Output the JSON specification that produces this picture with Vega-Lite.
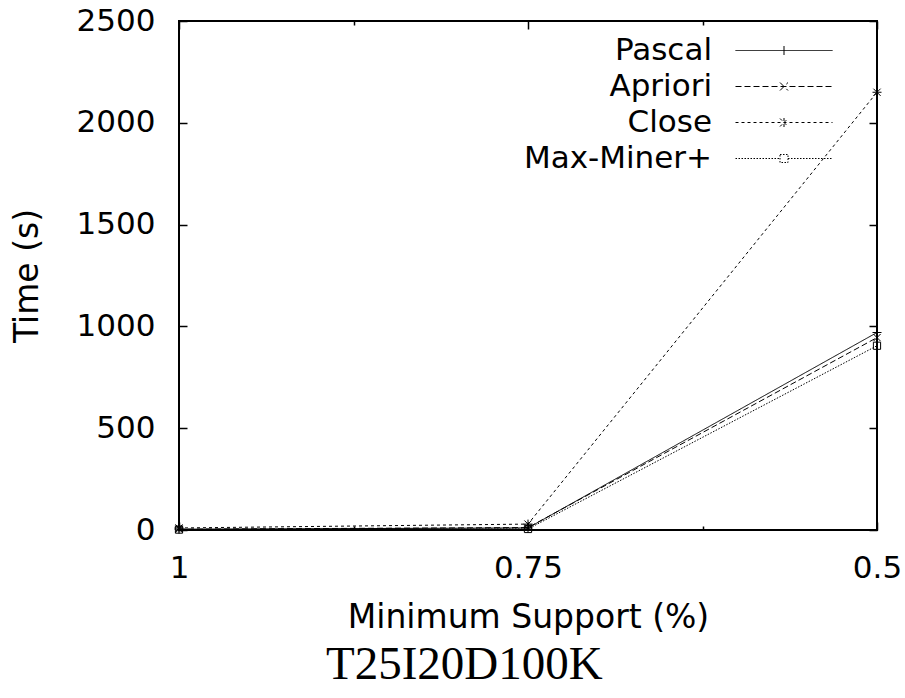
{
  "$schema": "https://vega.github.io/schema/vega-lite/v6.json",
  "width": 698,
  "height": 509,
  "autosize": {"type": "none"},
  "padding": {"left": 179, "top": 21, "right": 28, "bottom": 168},
  "background": "white",
  "config": {
    "view": {"stroke": "#000", "strokeWidth": 2},
    "axis": {
      "domain": false, "grid": false, "tickColor": "#000", "tickWidth": 1.5,
      "labelFont": "DejaVu Sans", "labelFontSize": 31, "labelColor": "#000",
      "titleFont": "DejaVu Sans", "titleFontSize": 33, "titleFontWeight": "normal", "titleColor": "#000"
    }
  },
  "title": {
    "text": "T25I20D100K", "orient": "bottom", "frame": "bounds", "anchor": "middle", "dx": 8,
    "font": "Liberation Serif", "fontSize": 47, "fontWeight": "normal", "color": "#000", "offset": 8
  },
  "data": {
    "values": [
      {"series": "Pascal", "support": 1, "time": 4},
      {"series": "Pascal", "support": 0.75, "time": 10},
      {"series": "Pascal", "support": 0.5, "time": 970},
      {"series": "Apriori", "support": 1, "time": 4},
      {"series": "Apriori", "support": 0.75, "time": 12},
      {"series": "Apriori", "support": 0.5, "time": 945},
      {"series": "Close", "support": 1, "time": 10},
      {"series": "Close", "support": 0.75, "time": 29},
      {"series": "Close", "support": 0.5, "time": 2150},
      {"series": "Max-Miner+", "support": 1, "time": 2},
      {"series": "Max-Miner+", "support": 0.75, "time": 5},
      {"series": "Max-Miner+", "support": 0.5, "time": 905}
    ]
  },
  "layer": [
    {
      "mark": {"type": "line", "color": "#000", "strokeWidth": 1},
      "encoding": {
        "x": {"field": "support", "type": "quantitative",
          "scale": {"domain": [0.5, 1], "reverse": true, "nice": false, "zero": false},
          "axis": {"orient": "bottom", "values": [1, 0.75, 0.5],
            "labelExpr": "datum.value == 1 ? '1' : datum.value == 0.75 ? '0.75' : datum.value == 0.5 ? '0.5' : ''",
            "tickSize": -8, "labelPadding": 31, "labelFlush": false, "labelOverlap": false,
            "title": "Minimum Support (%)", "titlePadding": 18}},
        "y": {"field": "time", "type": "quantitative",
          "scale": {"domain": [0, 2500], "nice": false, "zero": true},
          "axis": {"orient": "left", "values": [0, 500, 1000, 1500, 2000, 2500], "format": "d",
            "tickSize": -8, "labelPadding": 32, "labelFlush": false, "labelOverlap": false,
            "title": "Time (s)", "titlePadding": 32}},
        "strokeDash": {"field": "series", "type": "nominal",
          "scale": {"domain": ["Pascal", "Apriori", "Close", "Max-Miner+"],
            "range": [[1, 0], [6, 3], [3, 3], [1.5, 1.5]]},
          "legend": {
            "title": null, "orient": "none", "legendX": 589.5, "legendY": 14, "padding": 0,
            "symbolSize": 100, "symbolOffset": 0, "labelOffset": -87.5, "labelAlign": "right",
            "labelFont": "DejaVu Sans", "labelFontSize": 31, "labelColor": "#000", "labelLimit": 400,
            "rowPadding": 4, "symbolStrokeColor": "#000", "symbolStrokeWidth": 1, "symbolFillColor": "transparent",
            "encode": {"symbols": {"update": {"shape": {"signal": "datum.value === 'Pascal' ? 'M-9.7,0H9.7M0,-0.9V0.9' : datum.value === 'Apriori' ? 'M-9.7,0H9.7M-0.8,-0.8L0.8,0.8M-0.8,0.8L0.8,-0.8' : datum.value === 'Close' ? 'M-9.7,0H9.7M0,-0.9V0.9M-0.8,-0.8L0.8,0.8M-0.8,0.8L0.8,-0.8' : 'M-9.7,0H-0.8M0.8,0H9.7M-0.8,-0.8H0.8V0.8H-0.8Z'"}}}}
          }}
      }
    },
    {
      "transform": [{"filter": "datum.series === 'Pascal'"}],
      "mark": {"type": "point", "shape": "M-1,0H1M0,-1V1", "size": 81, "filled": false, "stroke": "#000", "strokeWidth": 1, "opacity": 1},
      "encoding": {
        "x": {"field": "support", "type": "quantitative",
          "axis": {"orient": "top", "values": [1, 0.75, 0.5], "labels": false, "tickSize": -8, "title": null}},
        "y": {"field": "time", "type": "quantitative",
          "axis": {"orient": "right", "values": [0, 500, 1000, 1500, 2000, 2500], "labels": false, "tickSize": -8, "title": null}}
      }
    },
    {
      "transform": [{"filter": "datum.series === 'Apriori'"}],
      "mark": {"type": "point", "shape": "M-0.8,-0.8L0.8,0.8M-0.8,0.8L0.8,-0.8", "size": 81, "filled": false, "stroke": "#000", "strokeWidth": 1, "opacity": 1},
      "encoding": {
        "x": {"field": "support", "type": "quantitative",
          "axis": {"orient": "bottom", "values": [0.875, 0.625], "labels": false, "tickSize": -4, "title": null}},
        "y": {"field": "time", "type": "quantitative", "axis": null}
      }
    },
    {
      "transform": [{"filter": "datum.series === 'Close'"}],
      "mark": {"type": "point", "shape": "M-1,0H1M0,-1V1M-0.8,-0.8L0.8,0.8M-0.8,0.8L0.8,-0.8", "size": 81, "filled": false, "stroke": "#000", "strokeWidth": 1, "opacity": 1},
      "encoding": {
        "x": {"field": "support", "type": "quantitative",
          "axis": {"orient": "top", "values": [0.875, 0.625], "labels": false, "tickSize": -4, "title": null}},
        "y": {"field": "time", "type": "quantitative", "axis": null}
      }
    },
    {
      "transform": [{"filter": "datum.series === 'Max-Miner+'"}],
      "mark": {"type": "point", "shape": "M-0.8,-0.8H0.8V0.8H-0.8Z", "size": 81, "filled": false, "stroke": "#000", "strokeWidth": 1, "opacity": 1},
      "encoding": {
        "x": {"field": "support", "type": "quantitative", "axis": null},
        "y": {"field": "time", "type": "quantitative", "axis": null}
      }
    }
  ],
  "resolve": {"axis": {"x": "independent", "y": "independent"}}
}
